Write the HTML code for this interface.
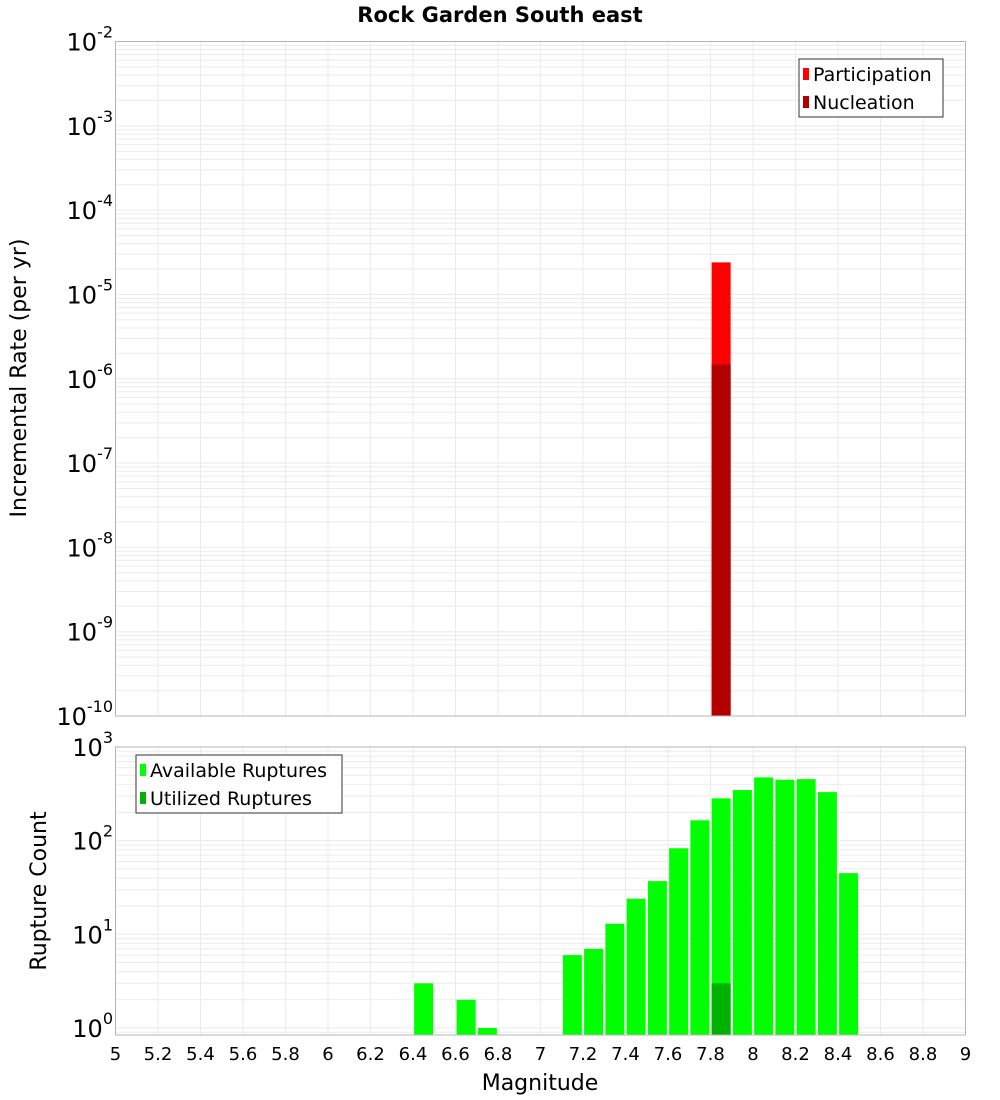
<!DOCTYPE html>
<html><head><meta charset="utf-8"><style>
body{margin:0;background:#fff;}
svg{display:block;font-family:"DejaVu Sans","Liberation Sans",sans-serif;}
</style></head><body>
<svg id="chart" width="1000" height="1100" xmlns="http://www.w3.org/2000/svg">
<text x="500" y="22" text-anchor="middle" font-size="21" font-weight="bold">Rock Garden South east</text>
<g id="top"></g>
<g id="bot"></g>
<text transform="translate(26,378) rotate(-90)" text-anchor="middle" font-size="22">Incremental Rate (per yr)</text>
<text transform="translate(46,891) rotate(-90)" text-anchor="middle" font-size="22">Rupture Count</text>
<text x="540" y="1090" text-anchor="middle" font-size="22">Magnitude</text>
</svg>
<script>
const rateMags=[7.85];
const participation=[2.4e-5];
const nucleation=[1.48e-6];
const countMags=[6.45,6.65,6.75,7.15,7.25,7.35,7.45,7.55,7.65,7.75,7.85,7.95,8.05,8.15,8.25,8.35,8.45];
const available=[3,2,1,6,7,13,24,37,83,165,283,347,474,447,454,330,45];
const utilMags=[7.85];
const utilized=[3];
const xTicks=["5","5.2","5.4","5.6","5.8","6","6.2","6.4","6.6","6.8","7","7.2","7.4","7.6","7.8","8","8.2","8.4","8.6","8.8","9"];
const topExps=[-2,-3,-4,-5,-6,-7,-8,-9,-10];
const botExps=[3,2,1,0];

const NS="http://www.w3.org/2000/svg";
const L=115.5,R=965.5;
const xs=m=>L+(m-5)/4*(R-L);
function mk(p,t,a){const e=document.createElementNS(NS,t);for(const k in a)e.setAttribute(k,a[k]);p.appendChild(e);return e;}
function panel(g,top,bot,lmin,lmax){
  const y=v=>bot-(Math.log10(v)-lmin)/(lmax-lmin)*(bot-top);
  const grid=mk(g,'g',{});
  
  
  for(let d=Math.floor(lmin);d<lmax;d++){for(let k=1;k<10;k++){const v=k*Math.pow(10,d);const lv=Math.log10(v);if(lv<lmin||lv>lmax)continue;const yy=y(v);
    mk(grid,'line',{x1:L,x2:R,y1:yy,y2:yy,stroke:'#ebebeb','stroke-width':1});}}
  for(let i=1;i<20;i++){const xx=xs(5+i*0.2);mk(grid,'line',{x1:xx,x2:xx,y1:top,y2:bot,stroke:'#ebebeb','stroke-width':1});}
  return y;
}
function frame(g,top,bot){const r=mk(g,'rect',{x:L,y:top,width:R-L,height:bot-top,fill:'none',stroke:'#b4b4b4','stroke-width':1});
}
function ylabel(g,yy,e){const t=mk(g,'text',{x:113,y:yy+9,'text-anchor':'end','font-size':24});

t.innerHTML='10<tspan font-size="16" dy="-13">'+e+'</tspan>';}
function bar(g,m,v,y,bot,fill,name){const w=19;const yy=Math.max(y(v),0);const r=mk(g,'rect',{x:xs(m)-w/2,y:yy,width:w,height:bot-yy,fill:fill});
}
function legend(g,x,y,w,items){const b=mk(g,'rect',{x:x,y:y,width:w,height:58,fill:'#fff',stroke:'#333','stroke-width':1});

items.forEach((it,i)=>{const cy=y+15+i*28;mk(g,'rect',{x:x+4,y:cy-6,width:6,height:12,fill:it[1]});
const t=mk(g,'text',{x:x+14,y:cy+7,'font-size':19});t.textContent=it[0];
});}

// top
const gt=document.getElementById('top');
const T1=41.5,B1=716;
const yt=panel(gt,T1,B1,-10,-2);
rateMags.forEach((m,i)=>bar(gt,m,participation[i],yt,B1,'#ff0000','participation-bar'));
rateMags.forEach((m,i)=>bar(gt,m,nucleation[i],yt,B1,'#b20000','nucleation-bar'));
frame(gt,T1,B1);
topExps.forEach(e=>ylabel(gt,yt(Math.pow(10,e)),e));
legend(gt,799,59,144,[['Participation','#ff0000'],['Nucleation','#b20000']]);

// bottom
const gb=document.getElementById('bot');
const T2=747,B2=1035;
const dec=(B2-T2-7)/3;
const bmin=-(B2-(T2+3*dec))/dec;
const yb=panel(gb,T2,B2,bmin,3);
countMags.forEach((m,i)=>bar(gb,m,available[i],yb,B2,'#00ff00','available-bar'));
utilMags.forEach((m,i)=>bar(gb,m,utilized[i],yb,B2,'#00b200','utilized-bar'));
frame(gb,T2,B2);
botExps.forEach(e=>ylabel(gb,yb(Math.pow(10,e)),e));
legend(gb,136,755,206,[['Available Ruptures','#00ff00'],['Utilized Ruptures','#00b200']]);
xTicks.forEach((s,i)=>{const t=mk(gb,'text',{x:xs(5+i*0.2),y:1060,'text-anchor':'middle','font-size':18});t.textContent=s;
});
</script>
</body></html>
